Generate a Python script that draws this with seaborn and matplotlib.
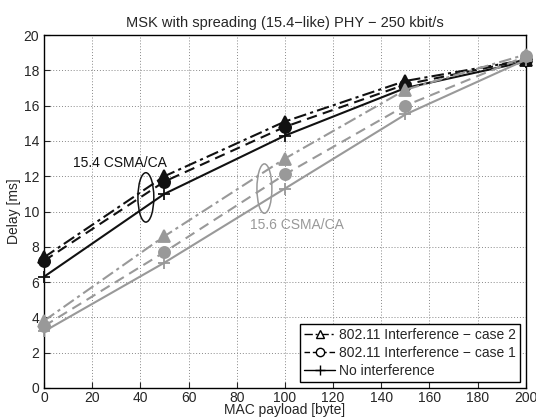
import numpy as np
import pandas as pd
import matplotlib
matplotlib.use("Agg")
import matplotlib.pyplot as plt
import seaborn as sns
from matplotlib.lines import Line2D
from matplotlib.patches import Ellipse

payload = [0, 50, 100, 150, 200]

# 15.4 CSMA/CA (black)
d154_none = [6.3, 11.0, 14.3, 17.0, 18.5]
d154_case1 = [7.2, 11.7, 14.8, 17.2, 18.6]
d154_case2 = [7.4, 12.0, 15.1, 17.4, 18.6]

# 15.6 CSMA/CA (gray)
d156_none = [3.2, 7.1, 11.3, 15.5, 18.6]
d156_case1 = [3.5, 7.7, 12.1, 16.0, 18.8]
d156_case2 = [3.8, 8.6, 13.0, 16.9, 18.9]

legend_labels = ["802.11 Interference \u2212 case 2",
                 "802.11 Interference \u2212 case 1",
                 "No interference"]

sns.set_style("ticks")
plt.rcParams["font.family"] = ["Liberation Sans", "DejaVu Sans"]
plt.rcParams["font.size"] = 10

fig = plt.figure(figsize=(5.36, 4.18), dpi=100)
ax = fig.add_axes([0.082, 0.072, 0.899, 0.844])

black = "#111111"
gray = "#999999"
dashdot = (0, (6, 2, 1.5, 2))
dashed = (0, (5, 3))
series = [
    (d154_case2, black, dashdot, "^"),
    (d154_case1, black, dashed, "o"),
    (d154_none, black, "-", "+"),
    (d156_case2, gray, dashdot, "^"),
    (d156_case1, gray, dashed, "o"),
    (d156_none, gray, "-", "+"),
]
for vals, col, ls, mk in series:
    df = pd.DataFrame({"x": payload, "y": vals})
    sns.lineplot(data=df, x="x", y="y", ax=ax, color=col, linestyle=ls,
                 marker=mk, markersize=8 if mk != "+" else 9,
                 markeredgecolor=col, markerfacecolor=col,
                 markeredgewidth=1.3, linewidth=1.5, clip_on=False, zorder=3)

ax.add_patch(Ellipse((42.3, 10.8), 6.6, 2.8, fill=False, edgecolor=black, lw=1.1))
ax.add_patch(Ellipse((91.5, 11.3), 6.2, 2.8, fill=False, edgecolor=gray, lw=1.1))
ax.text(12, 12.5, "15.4 CSMA/CA", color=black, fontsize=10)
ax.text(85.5, 9.0, "15.6 CSMA/CA", color=gray, fontsize=10)

ax.set_xlim(0, 200)
ax.set_ylim(0, 20)
ax.set_xticks(np.arange(0, 201, 20))
ax.set_yticks(np.arange(0, 21, 2))
ax.grid(True, linestyle=(0, (1, 2)), color="#888888", linewidth=0.7)
ax.tick_params(direction="in", length=4, labelsize=10)
ax.tick_params(axis="x", pad=2)
for s in ax.spines.values():
    s.set_linewidth(1.0)
    s.set_color("black")
ax.set_xlabel("MAC payload [byte]", fontsize=10, labelpad=-1)
ax.set_ylabel("Delay [ms]", fontsize=10, labelpad=2)
ax.set_title("MSK with spreading (15.4\u2212like) PHY \u2212 250 kbit/s", fontsize=10.5, pad=6)

handles = [
    Line2D([], [], color="black", linestyle=dashdot, marker="^",
           markerfacecolor="white", markersize=6, lw=1),
    Line2D([], [], color="black", linestyle=(0, (4, 2)), marker="o",
           markerfacecolor="white", markersize=6, lw=1),
    Line2D([], [], color="black", linestyle="-", marker="+", markersize=7, lw=1),
]
leg = ax.legend(handles, legend_labels, loc="lower right", fontsize=10,
                frameon=True, fancybox=False, framealpha=1, edgecolor="black",
                handlelength=2.2, handletextpad=0.3, borderpad=0.3,
                labelspacing=0.3, borderaxespad=0.4)
leg.get_frame().set_linewidth(1.0)

fig.savefig("out.png", dpi=100)
